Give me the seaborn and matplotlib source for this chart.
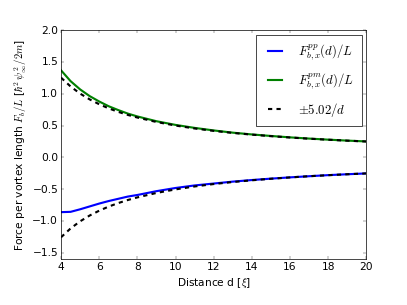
import matplotlib
matplotlib.use("Agg")
import matplotlib.pyplot as plt
import seaborn as sns

# values
distance = [4, 4.5, 5, 5.5, 6, 6.5, 7, 7.5, 8, 9, 10, 11, 12, 13, 14, 15,
            16, 17, 18, 19, 20]
force_pp = [-0.86, -0.855, -0.815, -0.77, -0.725, -0.685, -0.65, -0.615,
            -0.59, -0.53, -0.48, -0.44, -0.41, -0.38, -0.355, -0.333,
            -0.313, -0.295, -0.278, -0.264, -0.251]
force_pm = [1.37, 1.20, 1.07, 0.965, 0.88, 0.805, 0.745, 0.69, 0.645, 0.57,
            0.512, 0.465, 0.425, 0.39, 0.362, 0.338, 0.316, 0.297, 0.28,
            0.265, 0.252]
fit_pos = [1.255, 1.116, 1.004, 0.913, 0.837, 0.772, 0.717, 0.669, 0.628,
           0.558, 0.502, 0.456, 0.418, 0.386, 0.359, 0.335, 0.314, 0.295,
           0.279, 0.264, 0.251]
fit_neg = [-v for v in fit_pos]

plt.style.use("classic")
plt.rcParams["font.family"] = ["DejaVu Sans"]

fig, ax = plt.subplots(figsize=(8, 6))
fig.subplots_adjust(left=0.15, right=0.9, bottom=0.15, top=0.9)

sns.lineplot(x=distance, y=force_pp, color="b", lw=3,
             label=r"$F^{pp}_{b,x}(d)/L$", ax=ax)
sns.lineplot(x=distance, y=force_pm, color="g", lw=3,
             label=r"$F^{pm}_{b,x}(d)/L$", ax=ax)
sns.lineplot(x=distance, y=fit_pos, color="k", lw=3, linestyle="--",
             label=r"$\pm 5.02/d$", ax=ax)
sns.lineplot(x=distance, y=fit_neg, color="k", lw=3, linestyle="--",
             ax=ax)

ax.set_xlim(4, 20)
ax.set_ylim(-1.6, 2.0)
ax.set_xticks(range(4, 21, 2))
ax.set_yticks([-1.5, -1.0, -0.5, 0.0, 0.5, 1.0, 1.5, 2.0])
ax.tick_params(labelsize=15)
ax.set_xlabel(r"Distance d [$\xi$]", fontsize=15)
ax.set_ylabel(r"Force per vortex length $F_b/L$ [$\hbar^2\,\psi_\infty^2/2m$]",
              fontsize=15)
ax.legend(loc="upper right", fontsize=18, handlelength=1.7,
          handletextpad=1.0, labelspacing=0.75, borderpad=0.6,
          borderaxespad=0.35)

fig.savefig("out.png", dpi=50.875)
